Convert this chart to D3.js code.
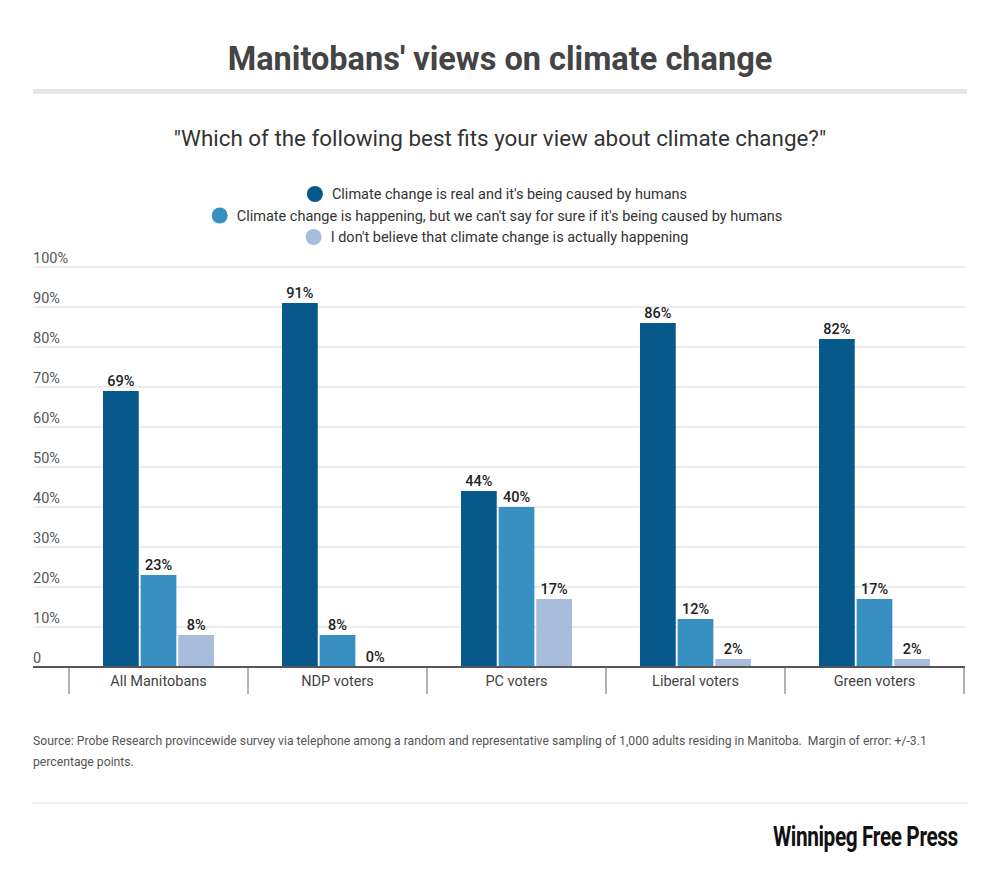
<!DOCTYPE html>
<html>
<head>
<meta charset="utf-8">
<script src="https://cdn.jsdelivr.net/npm/d3@7"></script>
<style>
  body { margin: 0; background: #fff; }
  svg { font-family: Roboto, "Noto Sans", sans-serif; }
</style>
</head>
<body>
<script>
var w = 1000;
var h = 873;

var categories = ["All Manitobans", "NDP voters", "PC voters", "Liberal voters", "Green voters"];
var series = [
  "Climate change is real and it's being caused by humans",
  "Climate change is happening, but we can't say for sure if it's being caused by humans",
  "I don't believe that climate change is actually happening"
];
var realHuman = [69, 91, 44, 86, 82];
var notSure = [23, 8, 40, 12, 17];
var notHappening = [8, 0, 17, 2, 2];
var yTicks = [0, 10, 20, 30, 40, 50, 60, 70, 80, 90, 100];
var colors = ["#07598c", "#3790c1", "#a7bddb"];

var values = [realHuman, notSure, notHappening];

var svg = d3.select("body")
  .append("svg")
  .attr("width", w)
  .attr("height", h);

// title + rule
svg.append("text")
  .attr("x", w/2)
  .attr("y", 70)
  .attr("text-anchor", "middle")
  .attr("font-size", 32.5)
  .attr("font-weight", "bold")
  .attr("fill", "#444")
  .text("Manitobans' views on climate change");

svg.append("rect")
  .attr("x", 33)
  .attr("y", 89)
  .attr("width", 934)
  .attr("height", 5)
  .attr("fill", "#e6e6e6");

svg.append("text")
  .attr("x", w/2)
  .attr("y", 146)
  .attr("text-anchor", "middle")
  .attr("font-size", 22.4)
  .attr("fill", "#333")
  .text("\"Which of the following best fits your view about climate change?\"");

// legend, each row centred
var legend = svg.append("g");
series.forEach(function(s, i){
  var row = legend.append("g");
  row.append("circle")
    .attr("r", 8)
    .attr("cx", 0)
    .attr("cy", 0)
    .attr("fill", colors[i]);
  var t = row.append("text")
    .attr("x", 17)
    .attr("y", 5)
    .attr("font-size", 14.5)
    .attr("fill", "#333")
    .text(s);
  var rw = 25 + t.node().getComputedTextLength();
  row.attr("transform", "translate(" + (497 - rw/2 + 8) + "," + (194 + i*21.5) + ")");
});

// scales
var y = d3.scaleLinear()
  .domain([0, 100])
  .range([667, 267]);

var x0 = d3.scaleBand()
  .domain(categories)
  .range([69, 964]);

var x1 = d3.scaleBand()
  .domain(d3.range(series.length))
  .range([34, x0.bandwidth() - 34])
  .paddingInner(0.05);

// gridlines + y labels
var grid = svg.append("g");
grid.selectAll("line")
  .data(yTicks.filter(function(d){ return d > 0; }))
  .enter()
  .append("line")
  .attr("x1", 33)
  .attr("x2", 965)
  .attr("y1", function(d){ return y(d); })
  .attr("y2", function(d){ return y(d); })
  .attr("stroke", "#e6e6e6")
  .attr("stroke-width", 1.5);

grid.selectAll("text")
  .data(yTicks)
  .enter()
  .append("text")
  .attr("x", 33)
  .attr("y", function(d){ return y(d) - 4; })
  .attr("font-size", 14.5)
  .attr("fill", "#555")
  .text(function(d){ return d === 0 ? "0" : d + "%"; });

// bars
var groups = svg.selectAll("g.cat")
  .data(categories)
  .enter()
  .append("g")
  .attr("class", "cat")
  .attr("transform", function(d){ return "translate(" + x0(d) + ",0)"; });

groups.each(function(c, ci){
  var g = d3.select(this);
  var vals = values.map(function(v, si){ return {s: si, v: v[ci]}; });
  g.selectAll("rect")
    .data(vals)
    .enter()
    .append("rect")
    .attr("x", function(d){ return x1(d.s); })
    .attr("y", function(d){ return y(d.v); })
    .attr("width", x1.bandwidth())
    .attr("height", function(d){ return y(0) - y(d.v); })
    .attr("fill", function(d){ return colors[d.s]; });
  g.selectAll("text")
    .data(vals)
    .enter()
    .append("text")
    .attr("x", function(d){ return x1(d.s) + x1.bandwidth()/2; })
    .attr("y", function(d){ return y(d.v) - 5; })
    .attr("text-anchor", "middle")
    .attr("font-size", 14.5)
    .attr("font-weight", 500)
    .attr("fill", "#222")
    .text(function(d){ return d.v + "%"; });
});

// x axis
var xAxis = svg.append("g");
xAxis.append("line")
  .attr("x1", 33)
  .attr("x2", 965)
  .attr("y1", y(0))
  .attr("y2", y(0))
  .attr("stroke", "#555")
  .attr("stroke-width", 2);

var seps = categories.map(function(c){ return x0(c); }).concat([x0.range()[1]]);
xAxis.selectAll("line.sep")
  .data(seps)
  .enter()
  .append("line")
  .attr("class", "sep")
  .attr("x1", function(d){ return d; })
  .attr("x2", function(d){ return d; })
  .attr("y1", y(0))
  .attr("y2", y(0) + 27)
  .attr("stroke", "#666")
  .attr("stroke-width", 1);

xAxis.selectAll("text")
  .data(categories)
  .enter()
  .append("text")
  .attr("x", function(d){ return x0(d) + x0.bandwidth()/2; })
  .attr("y", y(0) + 19)
  .attr("text-anchor", "middle")
  .attr("font-size", 14.5)
  .attr("fill", "#444")
  .text(function(d){ return d; });

// source + footer
var src = svg.append("text")
  .attr("x", 33)
  .attr("y", 745)
  .attr("font-size", 12.2)
  .attr("fill", "#555");
src.append("tspan")
  .attr("x", 33)
  .text("Source: Probe Research provincewide survey via telephone among a random and representative sampling of 1,000 adults residing in Manitoba.\u00a0 Margin of error: +/-3.1");
src.append("tspan")
  .attr("x", 33)
  .attr("dy", 21)
  .text("percentage points.");

svg.append("line")
  .attr("x1", 33)
  .attr("x2", 967)
  .attr("y1", 803)
  .attr("y2", 803)
  .attr("stroke", "#ddd")
  .attr("stroke-width", 1);

// logo: condensed by a horizontal scale
var logo = svg.append("g");
var lt = logo.append("text")
  .attr("x", 0)
  .attr("y", 0)
  .attr("font-weight", "bold")
  .attr("font-size", 27)
  .attr("letter-spacing", -0.5)
  .attr("fill", "#111")
  .text("Winnipeg Free Press");
var lw = lt.node().getComputedTextLength();
logo.attr("transform", "translate(773,846) scale(" + (185/lw) + ",1)");
</script>
</body>
</html>
